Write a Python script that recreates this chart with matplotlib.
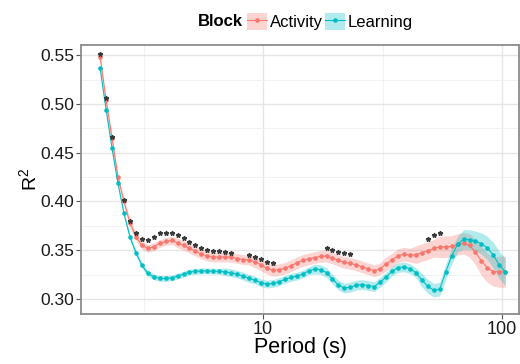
import numpy as np
import matplotlib
matplotlib.use("Agg")
import matplotlib.pyplot as plt
from matplotlib.patches import Patch
from matplotlib.lines import Line2D

plt.rcParams['font.family'] = ['Liberation Sans', 'DejaVu Sans']
plt.rcParams['mathtext.fontset'] = 'custom'
plt.rcParams['mathtext.rm'] = 'Liberation Sans'
plt.rcParams['mathtext.it'] = 'Liberation Sans:italic'

# wavelet periods (s)
periods = [2.080, 2.203, 2.333, 2.471, 2.617, 2.772, 2.935, 3.109, 3.293, 3.487,
           3.693, 3.912, 4.143, 4.388, 4.647, 4.922, 5.213, 5.521, 5.847, 6.193,
           6.559, 6.946, 7.357, 7.792, 8.252, 8.740, 9.257, 9.803, 10.38, 11.00,
           11.65, 12.33, 13.06, 13.83, 14.65, 15.52, 16.44, 17.41, 18.44, 19.53,
           20.68, 21.90, 23.20, 24.57, 26.02, 27.56, 29.19, 30.92, 32.74, 34.68,
           36.73, 38.90, 41.20, 43.63, 46.21, 48.94, 51.83, 54.90, 58.14, 61.58,
           65.22, 69.07, 73.15, 77.48, 82.06, 86.91, 92.04, 97.47, 103.2]

activity = [0.548, 0.504, 0.465, 0.425, 0.400, 0.378, 0.364, 0.355, 0.352, 0.3535,
            0.357, 0.359, 0.360, 0.3575, 0.355, 0.352, 0.349, 0.346, 0.344, 0.343,
            0.343, 0.343, 0.343, 0.3415, 0.3405, 0.340, 0.338, 0.335, 0.3315, 0.3295,
            0.330, 0.3315, 0.334, 0.337, 0.3395, 0.341, 0.3425, 0.3437, 0.344, 0.342,
            0.3395, 0.3375, 0.3365, 0.335, 0.333, 0.331, 0.329, 0.331, 0.336, 0.340,
            0.3445, 0.346, 0.345, 0.3455, 0.3475, 0.3495, 0.352, 0.3535, 0.3535, 0.354,
            0.356, 0.357, 0.355, 0.348, 0.339, 0.332, 0.328, 0.328, 0.328]

learning = [0.5364, 0.4943, 0.4544, 0.4185, 0.3877, 0.3638, 0.3474, 0.3348, 0.3262, 0.3228,
            0.3211, 0.3211, 0.3217, 0.3235, 0.3255, 0.3276, 0.3283, 0.3289, 0.3289, 0.3286,
            0.3283, 0.3279, 0.3269, 0.3255, 0.3235, 0.3211, 0.3194, 0.3166, 0.3153, 0.3160,
            0.3176, 0.3201, 0.3221, 0.3235, 0.3255, 0.3289, 0.3307, 0.3301, 0.3271, 0.3204,
            0.3143, 0.3112, 0.3122, 0.3143, 0.3148, 0.3137, 0.3127, 0.3173, 0.3225, 0.3286,
            0.3322, 0.3330, 0.3312, 0.3271, 0.3194, 0.3129, 0.3091, 0.3101, 0.3276, 0.3440,
            0.3563, 0.3611, 0.3609, 0.3596, 0.3568, 0.3522, 0.3450, 0.3348, 0.3279]

# ribbon half widths
activity_se = [0.003, 0.003, 0.003, 0.003, 0.003, 0.004, 0.004, 0.004, 0.004, 0.004,
               0.004, 0.004, 0.004, 0.005, 0.005, 0.005, 0.005, 0.005, 0.005, 0.005,
               0.005, 0.005, 0.005, 0.005, 0.005, 0.005, 0.006, 0.006, 0.006, 0.006,
               0.006, 0.006, 0.006, 0.006, 0.006, 0.006, 0.006, 0.006, 0.006, 0.006,
               0.006, 0.006, 0.006, 0.006, 0.006, 0.006, 0.006, 0.006, 0.007, 0.007,
               0.007, 0.007, 0.007, 0.009, 0.009, 0.009, 0.009, 0.011, 0.011, 0.011,
               0.011, 0.011, 0.012, 0.013, 0.015, 0.015, 0.015, 0.016, 0.016]
learning_se = [0.002, 0.002, 0.002, 0.002, 0.002, 0.003, 0.003, 0.003, 0.003, 0.003,
               0.003, 0.003, 0.003, 0.003, 0.003, 0.003, 0.003, 0.003, 0.003, 0.003,
               0.003, 0.004, 0.004, 0.004, 0.004, 0.004, 0.004, 0.004, 0.004, 0.004,
               0.004, 0.004, 0.004, 0.004, 0.004, 0.004, 0.005, 0.005, 0.005, 0.005,
               0.005, 0.005, 0.005, 0.005, 0.005, 0.005, 0.005, 0.005, 0.005, 0.005,
               0.005, 0.005, 0.005, 0.005, 0.007, 0.007, 0.007, 0.007, 0.008, 0.008,
               0.008, 0.010, 0.010, 0.010, 0.011, 0.012, 0.013, 0.014, 0.014]

# significance markers
star_idx = [0, 1, 2, 4, 5, 6, 7, 8, 9, 10, 11, 12, 13, 14, 15, 16, 17, 18, 19, 20,
            21, 22, 25, 26, 27, 28, 29, 38, 39, 40, 41, 42, 55, 56, 57]
star_y = [0.551, 0.5056, 0.4663, 0.4014, 0.380, 0.3679, 0.3611, 0.3601, 0.3631, 0.3672,
          0.3679, 0.3672, 0.3655, 0.3621, 0.3586, 0.3553, 0.3519, 0.350, 0.3494, 0.3494,
          0.3484, 0.3474, 0.345, 0.3433, 0.3406, 0.3381, 0.3371, 0.3519, 0.350, 0.3484,
          0.3474, 0.3457, 0.3611, 0.3655, 0.3672]

red = '#F8766D'
cyan = '#00BFC4'

p = np.array(periods)
a = np.array(activity)
l = np.array(learning)
ase = np.array(activity_se)
lse = np.array(learning_se)

fig = plt.figure(figsize=(5.2, 3.64), dpi=100)
ax = fig.add_axes([0.156, 0.137, 0.842, 0.739])

ax.fill_between(p, a - ase, a + ase, color=red, alpha=0.3, lw=0)
ax.fill_between(p, l - lse, l + lse, color=cyan, alpha=0.3, lw=0)
ax.plot(p, a, color=red, lw=0.8, marker='o', ms=2.3, zorder=3)
ax.plot(p, l, color=cyan, lw=0.8, marker='o', ms=2.3, zorder=3)
ax.plot(p[star_idx], star_y, ls='none', marker='*', ms=3.4, color='#3a3a3a', zorder=4)

ax.set_xscale('log')
ax.set_xlim(1.732, 117.8)
ax.set_ylim(0.2845, 0.5603)
ax.set_xticks([10, 100])
ax.set_xticklabels(['10', '100'])
ax.set_xticks([10 ** 0.5, 10 ** 1.5], minor=True)
ax.set_yticks([0.30, 0.35, 0.40, 0.45, 0.50, 0.55])
ax.set_yticklabels(['0.30', '0.35', '0.40', '0.45', '0.50', '0.55'])
ax.set_yticks([0.325, 0.375, 0.425, 0.475, 0.525], minor=True)

ax.grid(which='major', color='#e6e6e6', lw=1.0)
ax.grid(which='minor', color='#f0f0f0', lw=0.6)
ax.set_axisbelow(True)
for s in ax.spines.values():
    s.set_color('#8c8c8c')
    s.set_linewidth(1.3)
ax.tick_params(which='major', length=3.5, width=0.8, color='#555555',
               labelcolor='#1a1a1a', pad=1.5)
ax.tick_params(axis='y', labelsize=12.5)
ax.tick_params(axis='x', labelsize=13)
ax.tick_params(which='minor', length=0)

ax.set_xlabel('Period (s)', fontsize=15.5, labelpad=-1)
ax.set_ylabel('R$^2$', fontsize=14, labelpad=0)

# legend on top
fig.text(0.380, 0.94, 'Block', fontsize=12, fontweight='bold', va='center', ha='left')
h_act = (Patch(facecolor=red, alpha=0.3, lw=0),
         Line2D([], [], color=red, lw=0.8, marker='o', ms=2.3))
h_lea = (Patch(facecolor=cyan, alpha=0.3, lw=0),
         Line2D([], [], color=cyan, lw=0.8, marker='o', ms=2.3))
fig.legend([h_act, h_lea], ['Activity', 'Learning'], ncol=2, loc='center left',
           bbox_to_anchor=(0.475, 0.94), frameon=False, fontsize=12,
           handlelength=1.2, handleheight=1.15, handletextpad=0.15,
           columnspacing=0.15, borderpad=0, borderaxespad=0)

fig.savefig('out.png', dpi=100)
